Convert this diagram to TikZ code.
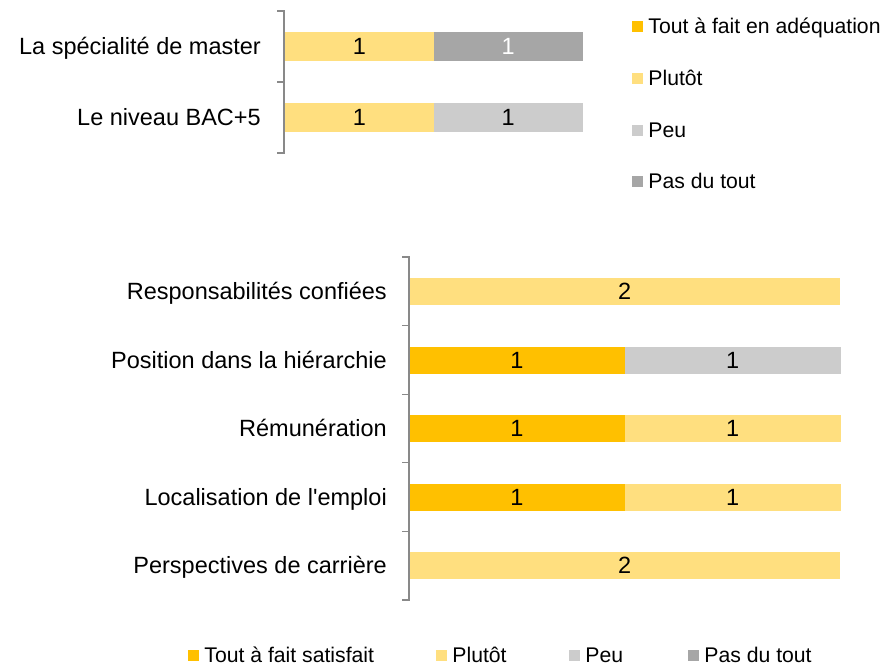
\documentclass[tikz,border=0pt]{standalone}
\usepackage{fontspec}
\setmainfont{Liberation Sans}
\usetikzlibrary{positioning}

\definecolor{orfonce}{HTML}{FFC000}
\definecolor{orclair}{HTML}{FFDF7F}
\definecolor{grisclair}{HTML}{CCCCCC}
\definecolor{grisfonce}{HTML}{A6A6A6}
\definecolor{axe}{HTML}{898989}

\tikzset{
	barre/.style={anchor=west, inner sep=0pt, minimum height=#1, text height=16.8pt, text depth=0pt, font=\fontsize{23.5}{25}\selectfont},
	etiquette/.style={inner sep=0pt, text height=16.8pt, text depth=0pt, font=\fontsize{23.5}{25}\selectfont},
	carre/.style={inner sep=0pt, minimum size=11pt},
	legende/.style={inner sep=0pt, text height=15.2pt, text depth=0pt, font=\fontsize{21.2}{23}\selectfont},
	axe/.style={draw=axe, line width=1.2pt}
}

\begin{document}
\begin{tikzpicture}[x=1pt, y=-1pt]
		\useasboundingbox (0,0) rectangle (886,667);
		% premier graphique
		\node[barre=29pt, fill=orclair, minimum width=148.5pt] (spec1) at (285,46.5) {1};
		\node[barre=29pt, fill=grisfonce, minimum width=149pt, text=white, right=-0.5pt of spec1] (spec2) {1};
		\node[barre=29pt, fill=orclair, minimum width=148.5pt] (niveau1) at (285,117.5) {1};
		\node[barre=29pt, fill=grisclair, minimum width=149pt, right=-0.5pt of niveau1] (niveau2) {1};
		\node[etiquette, left=24pt of spec1] (spec) {La spécialité de master};
		\node[etiquette, left=24pt of niveau1] (niveau) {Le niveau BAC+5};
		\path[axe] (277,11) -- (284,11) -- (284,153) -- (277,153) (277,82) -- (284,82);
		% legende du premier graphique
		\node[carre, fill=orfonce] (lh1) at (637.5,26) {};
		\node[legende, right=5pt of lh1] {Tout à fait en adéquation};
		\node[carre, fill=orclair] (lh2) at (637.5,78) {};
		\node[legende, right=5pt of lh2] {Plutôt};
		\node[carre, fill=grisclair] (lh3) at (637.5,130) {};
		\node[legende, right=5pt of lh3] {Peu};
		\node[carre, fill=grisfonce] (lh4) at (637.5,181) {};
		\node[legende, right=5pt of lh4] {Pas du tout};
		% second graphique
		\node[barre=27pt, fill=orclair, minimum width=431pt] (resp1) at (409,291.5) {2};
		\node[barre=27pt, fill=orfonce, minimum width=215.5pt] (pos1) at (409,360) {1};
		\node[barre=27pt, fill=grisclair, minimum width=216pt, right=-0.5pt of pos1] (pos2) {1};
		\node[barre=27pt, fill=orfonce, minimum width=215.5pt] (rem1) at (409,428.5) {1};
		\node[barre=27pt, fill=orclair, minimum width=216pt, right=-0.5pt of rem1] (rem2) {1};
		\node[barre=27pt, fill=orfonce, minimum width=215.5pt] (loc1) at (409,497) {1};
		\node[barre=27pt, fill=orclair, minimum width=216pt, right=-0.5pt of loc1] (loc2) {1};
		\node[barre=27pt, fill=orclair, minimum width=431pt] (persp1) at (409,565.5) {2};
		\node[etiquette, left=22pt of resp1] (resp) {Responsabilités confiées};
		\node[etiquette, left=22pt of pos1] (pos) {Position dans la hiérarchie};
		\node[etiquette, left=22pt of rem1] (rem) {Rémunération};
		\node[etiquette, left=22pt of loc1] (loc) {Localisation de l\textquotesingle emploi};
		\node[etiquette, left=22pt of persp1] (persp) {Perspectives de carrière};
		\path[axe] (402,257) -- (409,257) -- (409,600) -- (402,600)
			(402,325.6) -- (409,325.6) (402,394.2) -- (409,394.2)
			(402,462.8) -- (409,462.8) (402,531.4) -- (409,531.4);
		% legende du second graphique
		\node[carre, fill=orfonce] (lb1) at (193.5,655) {};
		\node[legende, right=5pt of lb1] {Tout à fait satisfait};
		\node[carre, fill=orclair] (lb2) at (441.5,655) {};
		\node[legende, right=5pt of lb2] {Plutôt};
		\node[carre, fill=grisclair] (lb3) at (574.5,655) {};
		\node[legende, right=5pt of lb3] {Peu};
		\node[carre, fill=grisfonce] (lb4) at (693.5,655) {};
		\node[legende, right=5pt of lb4] {Pas du tout};
	\end{tikzpicture}
\end{document}
